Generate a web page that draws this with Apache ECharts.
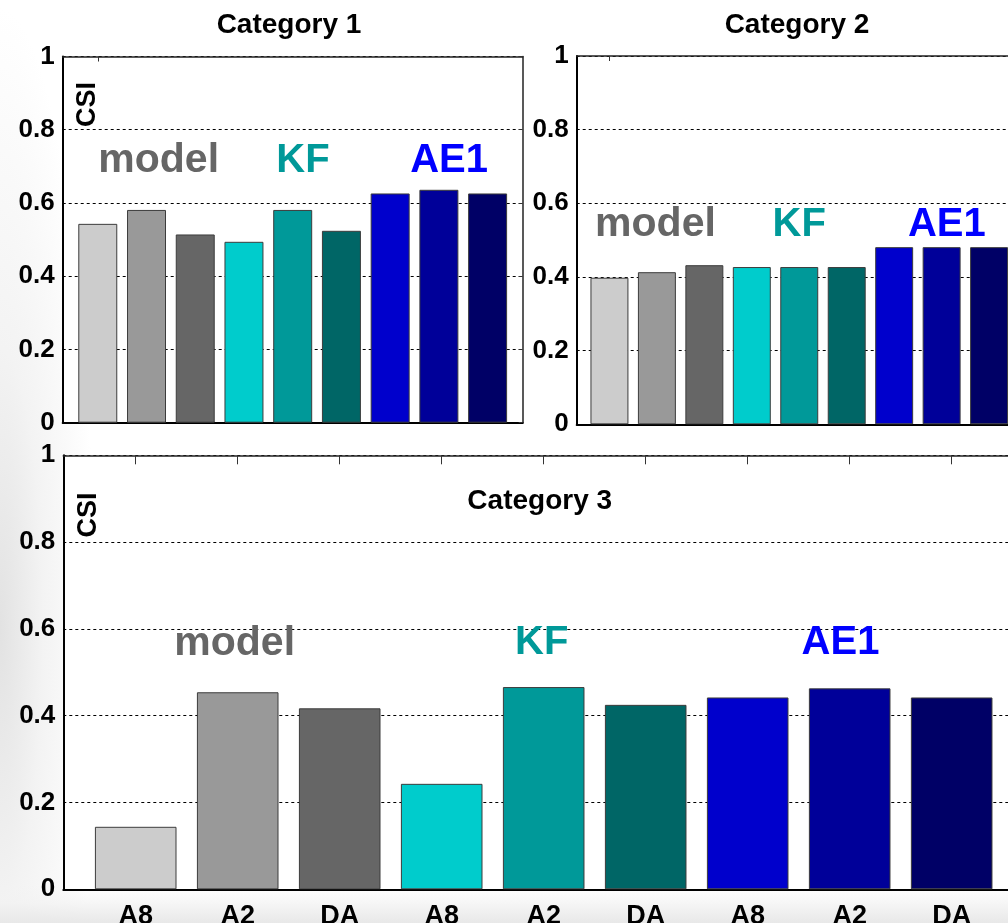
<!DOCTYPE html>
<html>
<head>
<meta charset="utf-8">
<script src="https://cdn.jsdelivr.net/npm/echarts@6/dist/echarts.min.js"></script>
<style>
  html, body { margin: 0; padding: 0; }
  body {
    width: 1008px; height: 923px; overflow: hidden;
    background:
      linear-gradient(to top, rgba(232,232,232,1) 0px, rgba(242,242,242,0.7) 20px, rgba(255,255,255,0) 38px),
      radial-gradient(ellipse 95px 620px at 0% 68%, rgba(226,226,226,1) 0%, rgba(240,240,240,0.8) 45%, rgba(255,255,255,0) 100%),
      #ffffff;
  }
  #chart { width: 1008px; height: 923px; }
</style>
</head>
<body>
<div id="chart"></div>
<script>
// Experiment labels shared by all three panels
const xLabels = ['A8', 'A2', 'DA', 'A8', 'A2', 'DA', 'A8', 'A2', 'DA'];
const barPositions = [1, 2, 3, 4, 5, 6, 7, 8, 9];
const groupNames = ['model', 'KF', 'AE1'];
const panelTitles = ['Category 1', 'Category 2', 'Category 3'];

// CSI values per panel
const category1 = [0.543, 0.581, 0.514, 0.494, 0.581, 0.524, 0.626, 0.636, 0.626];
const category2 = [0.398, 0.413, 0.432, 0.427, 0.427, 0.427, 0.481, 0.481, 0.481];
const category3 = [0.144, 0.454, 0.417, 0.243, 0.466, 0.425, 0.442, 0.463, 0.442];

// Styling
const FONT = "'Liberation Sans', Arial, Helvetica, sans-serif";
const barColors = ['#cccccc', '#999999', '#666666',
                   '#00cccc', '#009999', '#006666',
                   '#0000cc', '#000099', '#000066'];
const groupColors = ['#666666', '#009999', '#0000ff'];
const groupFontSize = [41, 40, 40];

// Layout of the three axes boxes
const panels = [
  { values: category1, grid: { left: 62.7, top: 56.5, width: 460, height: 366.2 },
    xMin: 0.28, xMax: 9.72, title: [289, 25.3], csi: [88, 104.5],
    labelX: [2.25, 5.21, 8.21], labelY: 0.715, topTicks: [1], topTickLen: 5, showX: false },
  { values: category2, grid: { left: 576.7, top: 56, width: 445.6, height: 368.3 },
    xMin: 0.31, xMax: 9.7, title: [797, 25.3], csi: null,
    labelX: [1.97, 5.0, 8.11], labelY: 0.541, topTicks: [1], topTickLen: 5, showX: false },
  { values: category3, grid: { left: 63.3, top: 455.3, width: 960.8, height: 434 },
    xMin: 0.29, xMax: 9.71, title: [539.7, 501], csi: [89, 515],
    labelX: [1.97, 4.98, 7.91], labelY: 0.567, topTicks: barPositions, topTickLen: 9, showX: true }
];

const grids = [], xAxes = [], yAxes = [], series = [], graphics = [];

panels.forEach((p, i) => {
  grids.push(Object.assign({
    show: true, backgroundColor: '#ffffff', borderWidth: 0,
    containLabel: false, outerBoundsMode: 'none'
  }, p.grid));

  // bottom x axis (labels only on the lower panel)
  xAxes.push({
    type: 'value', gridIndex: i, position: 'bottom', min: p.xMin, max: p.xMax,
    axisLine: { show: true, onZero: false, lineStyle: { color: '#000', width: 2 } },
    axisTick: { show: false },
    splitLine: { show: false },
    axisLabel: {
      show: p.showX, customValues: barPositions, margin: 14,
      fontSize: 27, fontWeight: 'bold', fontFamily: FONT, color: '#000',
      formatter: v => xLabels[Math.round(v) - 1] || ''
    }
  });
  // top x axis closing the box, with inward ticks
  xAxes.push({
    type: 'value', gridIndex: i, position: 'top', min: p.xMin, max: p.xMax,
    axisLine: { show: true, onZero: false, lineStyle: { color: '#222', width: 1.5 } },
    axisTick: { show: true, inside: true, length: p.topTickLen, customValues: p.topTicks,
                lineStyle: { color: '#333', width: 1 } },
    axisLabel: { show: false },
    splitLine: { show: false }
  });

  // left y axis with labels and dotted grid
  yAxes.push({
    type: 'value', gridIndex: i, position: 'left', min: 0, max: 1, interval: 0.2,
    axisLine: { show: true, onZero: false, lineStyle: { color: '#000', width: 2 } },
    axisTick: { show: false },
    axisLabel: { margin: 8, fontSize: 26, fontWeight: 'bold', fontFamily: FONT, color: '#000' },
    splitLine: { show: true, lineStyle: { color: '#000', width: 1, type: [3, 3] } }
  });
  // right y axis closing the box
  yAxes.push({
    type: 'value', gridIndex: i, position: 'right', min: 0, max: 1, interval: 0.2,
    axisLine: { show: true, onZero: false, lineStyle: { color: '#222', width: 1.5 } },
    axisTick: { show: true, inside: true, length: 4, lineStyle: { color: '#333' } },
    axisLabel: { show: false },
    splitLine: { show: false }
  });

  series.push({
    type: 'bar', xAxisIndex: 2 * i, yAxisIndex: 2 * i, barWidth: '80%',
    silent: true, z: 2,
    itemStyle: { borderColor: '#3c3c3c', borderWidth: 1 },
    data: p.values.map((v, k) => ({ value: [barPositions[k], v], itemStyle: { color: barColors[k] } }))
  });

  // group names placed in data space
  series.push({
    type: 'scatter', xAxisIndex: 2 * i, yAxisIndex: 2 * i, symbolSize: 1,
    silent: true, z: 5,
    itemStyle: { color: 'rgba(0,0,0,0)', opacity: 1 },
    label: { show: true, position: 'inside', fontWeight: 'bold', fontFamily: FONT,
             formatter: d => d.name },
    data: groupNames.map((n, g) => ({
      name: n, value: [p.labelX[g], p.labelY],
      label: { color: groupColors[g], fontSize: groupFontSize[g] }
    }))
  });

  graphics.push({
    type: 'text', z: 100, silent: true,
    style: { x: p.title[0], y: p.title[1], text: panelTitles[i], fill: '#000',
             font: 'bold 28px ' + FONT, textAlign: 'center', textVerticalAlign: 'middle' }
  });
  if (p.csi) {
    graphics.push({
      type: 'text', z: 100, silent: true, x: p.csi[0], y: p.csi[1], rotation: Math.PI / 2,
      style: { x: 0, y: 0, text: 'CSI', fill: '#000', font: 'bold 27px ' + FONT,
               textAlign: 'center', textVerticalAlign: 'middle' }
    });
  }
});

const chart = echarts.init(document.getElementById('chart'), null, { renderer: 'canvas' });
chart.setOption({
  animation: false,
  backgroundColor: 'transparent',
  grid: grids,
  xAxis: xAxes,
  yAxis: yAxes,
  series: series,
  graphic: graphics
});
</script>
</body>
</html>
